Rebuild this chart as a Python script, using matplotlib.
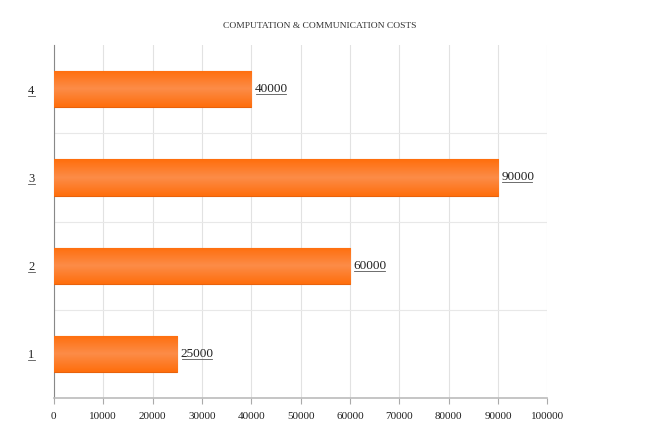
import matplotlib
matplotlib.use("Agg")
import matplotlib.pyplot as plt
from matplotlib.lines import Line2D
from matplotlib.colors import LinearSegmentedColormap
import numpy as np

categories = ["1", "2", "3", "4"]
values = [25000, 60000, 90000, 40000]
xticks = [0, 10000, 20000, 30000, 40000, 50000, 60000, 70000, 80000, 90000, 100000]
title = "Computation & Communication Costs"

plt.rcParams['font.family'] = ['Liberation Serif', 'DejaVu Serif']

fig = plt.figure(figsize=(6.65, 4.26), dpi=100)
ax = fig.add_axes([0.081, 0.066, 0.742, 0.828])

ypos = np.arange(1, len(categories) + 1)
bars = ax.barh(ypos, values, height=0.41, color='#FB7A1E', edgecolor='#E8620C', linewidth=0.8, zorder=3)

grad = np.linspace(0, 1, 100).reshape(-1, 1)
cmap = LinearSegmentedColormap.from_list('o', ['#FF6E0C', '#FC8C48', '#FF6E0C'])
for b in bars:
    x0, y0 = b.get_x(), b.get_y()
    w, h = b.get_width(), b.get_height()
    im = ax.imshow(grad, extent=[x0, x0 + w, y0, y0 + h], aspect='auto', cmap=cmap, zorder=3.5, origin='lower')
    im.set_clip_path(b)

labels = []
for yv, v in zip(ypos, values):
    t = ax.text(v + 700, yv, str(v), va='center', ha='left', fontsize=9.5, color='#222222', zorder=5)
    labels.append(t)

ax.set_xlim(0, 100000)
ax.set_ylim(0.5, 4.5)
ax.set_xticks(xticks)
ax.set_xticklabels([str(t) for t in xticks], fontsize=8, color='#222222')
ax.set_yticks(ypos)
ax.set_yticklabels(categories, fontsize=9, color='#222222')
ax.set_yticks([1.5, 2.5, 3.5], minor=True)
ax.grid(axis='x', color='#E2E2E2', linewidth=0.8, zorder=0)
ax.grid(axis='y', which='minor', color='#E8E8E8', linewidth=0.8, zorder=0)
ax.tick_params(axis='y', which='both', length=0, pad=14)
ax.tick_params(axis='x', length=4, color='#AAAAAA', pad=6)
for s in ['top', 'right']:
    ax.spines[s].set_visible(False)
ax.spines['left'].set_color('#888888')
ax.spines['bottom'].set_color('#BBBBBB')
ax.spines['bottom'].set_linewidth(1.2)

fig.text(0.48, 0.94, title.upper(), fontsize=6.8, ha='center', va='center', color='#333333')

# underline value labels and y tick labels
fig.canvas.draw()
r = fig.canvas.get_renderer()
W, H = fig.bbox.width, fig.bbox.height
for t in labels:
    bb = t.get_window_extent(r)
    y = (bb.y0 + 1.0) / H
    fig.add_artist(Line2D([(bb.x0 + 1) / W, (bb.x1 - 2) / W], [y, y], color='#555555', linewidth=0.6))
for t in ax.get_yticklabels():
    bb = t.get_window_extent(r)
    y = (bb.y0 + 1.0) / H
    fig.add_artist(Line2D([(bb.x0 - 0.5) / W, (bb.x1 + 0.5) / W], [y, y], color='#555555', linewidth=0.6))

fig.savefig("out.png", dpi=100)
